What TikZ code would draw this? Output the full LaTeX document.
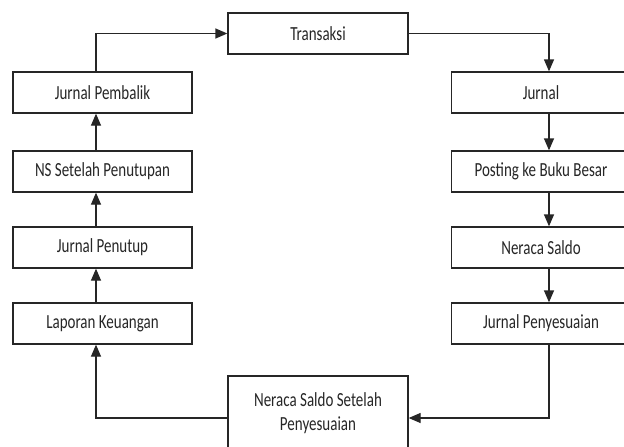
\documentclass[tikz,border=0pt]{standalone}
\usepackage{fontspec}
\setmainfont{Carlito}
\usetikzlibrary{arrows.meta}
\newcommand{\sq}[1]{\scalebox{0.75}[1]{#1}}
\begin{document}
\begin{tikzpicture}[x=1pt,y=-1pt,
  box/.style={draw=black!85,line width=1.3pt,rectangle,minimum width=179pt,minimum height=41pt,inner sep=0pt,font=\fontsize{20}{24}\selectfont,text=black!85,align=center,fill=white},
  arr/.style={draw=black!85,line width=1.3pt,-{Triangle[length=12pt,width=10pt]}}]
\clip (0,0) rectangle (624,447);
\fill[white] (0,0) rectangle (624,447);
\coordinate (lx) at (96,0);
\coordinate (rx) at (549,0);
\node[box,minimum width=180pt] (trans) at (318,33.5) {\sq{Transaksi}};
\node[box] (pem) at (102.5,92.5) {\sq{Jurnal Pembalik}};
\node[box] (ns) at (102.5,171.5) {\sq{NS Setelah Penutupan}};
\node[box] (pen) at (102.5,247.5) {\sq{Jurnal Penutup}};
\node[box] (lap) at (102.5,323.5) {\sq{Laporan Keuangan}};
\node[box] (jur) at (541,92.5) {\sq{Jurnal}};
\node[box] (post) at (541,171.5) {\sq{Posting ke Buku Besar}};
\node[box] (ners) at (541,247.5) {\sq{Neraca Saldo}};
\node[box] (jp) at (541,323.5) {\sq{Jurnal Penyesuaian}};
\node[box,minimum width=180pt,minimum height=74pt] (nss) at (318,413) {\sq{Neraca Saldo Setelah}\\\sq{Penyesuaian}};
\draw[arr] (pem.north -| lx) |- (trans.west);
\draw[arr] (trans.east) -| (jur.north -| rx);
\draw[arr] (jur.south -| rx) -- (post.north -| rx);
\draw[arr] (post.south -| rx) -- (ners.north -| rx);
\draw[arr] (ners.south -| rx) -- (jp.north -| rx);
\draw[arr] (jp.south -| rx) |- ([yshift=-5pt]nss.east);
\draw[arr] ([yshift=-5pt]nss.west) -| (lap.south -| lx);
\draw[arr] (lap.north -| lx) -- (pen.south -| lx);
\draw[arr] (pen.north -| lx) -- (ns.south -| lx);
\draw[arr] (ns.north -| lx) -- (pem.south -| lx);
\end{tikzpicture}
\end{document}
